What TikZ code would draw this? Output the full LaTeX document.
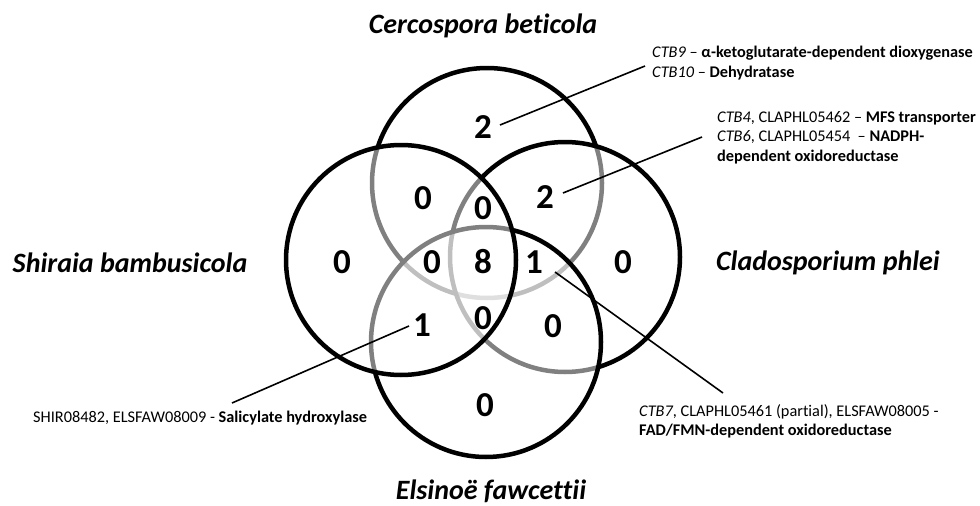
\documentclass[tikz,border=0pt]{standalone}
\usepackage{fontspec}
\setmainfont[Ligatures=NoCommon]{Carlito}
\begin{document}
\begin{tikzpicture}[x=1pt,y=-1pt,
  venn/.style={circle,draw=black,line width=4.5pt,fill=white,fill opacity=0.5,draw opacity=1,minimum size=230pt,inner sep=0pt},
  num/.style={font=\fontsize{35}{35}\selectfont\bfseries,inner sep=0pt},
  species/.style={font=\fontsize{28}{30}\selectfont\bfseries\itshape,inner sep=0pt},
  lab/.style={font=\fontsize{16.3}{19.5}\selectfont,align=left,inner sep=0pt,anchor=north west},
  leader/.style={line width=1.6pt,black}]
\useasboundingbox[fill=white] (0,0) rectangle (980,506);
% circles (drawing order gives the grey arcs)
\node[venn] (ctop) at (487,183) {};
\node[venn] (cright) at (565,257) {};
\node[venn] (cbottom) at (486,342) {};
\node[venn] (cleft) at (401,260) {};
% species names
\node[species] (tC) at (483,26) {Cercospora beticola};
\node[species] (tE) at (491,491) {Elsinoë fawcettii};
\node[species] (tS) at (130,263) {Shiraia bambusicola};
\node[species] (tP) at (828,263) {Cladosporium phlei};
% counts
\node[num] (n1) at (483,127) {2};
\node[num] (n2) at (423,198) {0};
\node[num] (n3) at (483,208) {0};
\node[num] (n4) at (545,197) {2};
\node[num] (n5) at (342,262) {0};
\node[num] (n6) at (432,262) {0};
\node[num] (n7) at (483,262) {8};
\node[num] (n8) at (534,262) {1};
\node[num] (n9) at (623,262) {0};
\node[num] (n10) at (422,325) {1};
\node[num] (n11) at (483,318) {0};
\node[num] (n12) at (553,326) {0};
\node[num] (n13) at (485,405) {0};
% annotation texts
\node[lab] (L1) at (652,46) {\textit{CTB9} – \textbf{α-ketoglutarate-dependent dioxygenase}\\\textit{CTB10} – \textbf{Dehydratase}};
\node[lab] (L2) at (717,111) {\textit{CTB4}, CLAPHL05462 – \textbf{MFS transporter}\\\textit{CTB6}, CLAPHL05454 \ – \textbf{NADPH-}\\\textbf{dependent oxidoreductase}};
\node[lab] (L3) at (33,411) {SHIR08482, ELSFAW08009 - \textbf{Salicylate hydroxylase}};
\node[lab] (L4) at (639,404) {\textit{CTB7}, CLAPHL05461 (partial), ELSFAW08005 -\\\textbf{FAD/FMN-dependent oxidoreductase}};
% leader line ends
\coordinate (a1) at (500,125);
\coordinate (b1) at (645,66);
\coordinate (a2) at (563,193);
\coordinate (b2) at (702,137);
\coordinate (a3) at (409,326);
\coordinate (b3) at (232,403);
\coordinate (a4) at (555,272);
\coordinate (b4) at (723,393);
\draw[leader] (a1) -- (b1);
\draw[leader] (a2) -- (b2);
\draw[leader] (a3) -- (b3);
\draw[leader] (a4) -- (b4);
\end{tikzpicture}
\end{document}
